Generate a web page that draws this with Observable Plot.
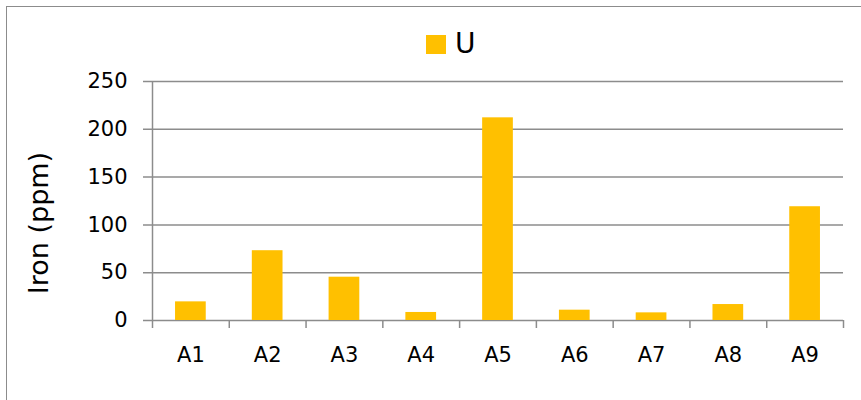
<!DOCTYPE html>
<html>
<head>
<meta charset="utf-8">
<script src="https://cdn.jsdelivr.net/npm/d3@7"></script>
<script src="https://cdn.jsdelivr.net/npm/@observablehq/plot@0.6"></script>
<style>
  html, body { margin: 0; padding: 0; background: #fff; }
  #wrap { position: relative; width: 861px; height: 400px; overflow: hidden; font-family: "DejaVu Sans", sans-serif; }
  #frame { position: absolute; left: 6px; top: 6px; width: 900px; height: 500px; border: 1.5px solid #8c8c8c; box-sizing: border-box; }
  #chart { position: absolute; left: 0; top: 0; }
  #legend { position: absolute; left: 426px; top: 30px; display: flex; align-items: center; gap: 9px; font-size: 28px; color: #000; line-height: 1; }
  #legend .swatch { width: 20px; height: 19px; background: #FFC000; }
  #ylabel { position: absolute; left: 38px; top: 223px; transform: translate(-50%, -50%) rotate(-90deg); font-size: 27px; white-space: nowrap; color: #000; line-height: 1; }
</style>
</head>
<body>
<div id="wrap">
  <div id="frame"></div>
  <div id="chart"></div>
  <div id="legend"><span class="swatch"></span><span class="name"></span></div>
  <div id="ylabel"></div>
</div>
<script>
// Iron content per sample site, series "U"
const sites = ["A1", "A2", "A3", "A4", "A5", "A6", "A7", "A8", "A9"];
const ironU = [19.5, 73, 45.3, 8.4, 212, 10.8, 8, 16.7, 119];
const seriesName = "U";
const yTicks = [0, 50, 100, 150, 200, 250];
const yLabel = "Iron (ppm)";

const barColor = "#FFC000";
const gridColor = "#8c8c8c";

const W = 861, H = 400;
const mL = 152, mR = 18, mT = 81, mB = 80;
const step = (W - mL - mR) / sites.length;

const data = sites.map((s, i) => ({site: s, iron: ironU[i]}));

document.querySelector("#legend .name").textContent = seriesName;
document.getElementById("ylabel").textContent = yLabel;

const chart = Plot.plot({
  width: W,
  height: H,
  marginLeft: mL,
  marginRight: mR,
  marginTop: mT,
  marginBottom: mB,
  style: {fontFamily: "'DejaVu Sans', sans-serif", color: "#000", background: "transparent"},
  x: {type: "band", domain: sites, paddingInner: 0.6, paddingOuter: 0.3, round: false, axis: null},
  y: {domain: [0, 250], axis: null},
  marks: [
    // horizontal gridlines, extended left to form the tick marks
    Plot.ruleY(yTicks, {stroke: gridColor, strokeWidth: 1.5, insetLeft: -9}),
    Plot.barY(data, {x: "site", y: "iron", fill: barColor}),
    // vertical axis line
    Plot.ruleX([sites[0]], {x: d => d, dx: -step / 2, y1: 0, y2: 250, stroke: gridColor, strokeWidth: 1.5}),
    // category boundary ticks below the baseline
    Plot.ruleX(sites, {x: d => d, dx: -step / 2, y1: 0, y2: 0, insetBottom: -8, stroke: gridColor, strokeWidth: 1.5}),
    Plot.ruleX([sites[sites.length - 1]], {x: d => d, dx: step / 2, y1: 0, y2: 0, insetBottom: -8, stroke: gridColor, strokeWidth: 1.5}),
    // tick labels
    Plot.text(yTicks, {y: d => d, frameAnchor: "left", textAnchor: "end", dx: -25, fontSize: 21, fill: "#000"}),
    Plot.text(sites, {x: d => d, frameAnchor: "bottom", lineAnchor: "middle", dy: 35, fontSize: 21, fill: "#000"})
  ]
});

document.getElementById("chart").appendChild(chart);
</script>
</body>
</html>
